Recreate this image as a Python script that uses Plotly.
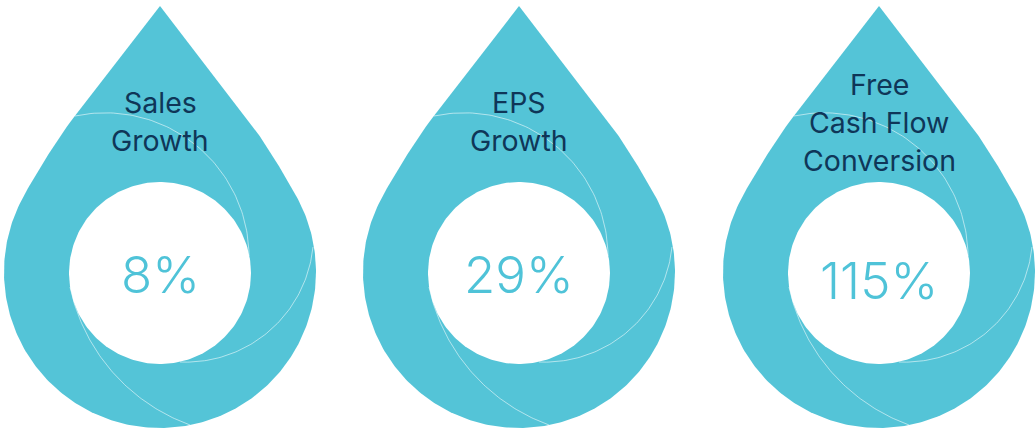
import numpy as np
import plotly.graph_objects as go

# Metric titles (one entry per line) and their values in percent
title_lines = [["Sales", "Growth"], ["EPS", "Growth"], ["Free", "Cash Flow", "Conversion"]]
values = [8, 29, 115]

# Drop geometry (pixel units, y grows downwards)
drop_cx = [160, 519, 879]
CY = 272            # centre of the round part of each drop
R_OUT = 156         # radius of the round part
TIP = 266           # distance from centre to the tip
SHOULDER = (86.7, -154)   # where the straight side starts to bend
JOIN_ANGLE = np.deg2rad(27.5)  # where the side meets the round part (above horizontal)
R_IN = 91           # radius of the white centre disc
IN_DY = 1
value_dy = [2, 2, 8]
title_top = [101, 101, 83]
LINE_GAP = 38

DROP = "#54c4d7"
NAVY = "#0f3658"
VALUE = "#4fc3d8"

# shutter-blade arcs: three points each, relative to drop centre
blades = [
    [(-85, -156), (37, -126), (89, -16)],
    [(153, -25), (93, 71), (20, 90)],
    [(-90, 15), (-43, 105), (30, 153)],
]


def cubic(p0, p1, p2, p3, n=40):
    t = np.linspace(0, 1, n)[:, None]
    p0, p1, p2, p3 = map(np.asarray, (p0, p1, p2, p3))
    return (1 - t) ** 3 * p0 + 3 * t * (1 - t) ** 2 * p1 + 3 * t ** 2 * (1 - t) * p2 + t ** 3 * p3


def drop_outline(cx):
    # right half, from the tip down to the join point, in centre-relative coords
    tip = np.array([0.0, -TIP])
    sh = np.array(SHOULDER, dtype=float)
    d = (sh - tip) / np.linalg.norm(sh - tip)
    join = np.array([R_OUT * np.cos(JOIN_ANGLE), -R_OUT * np.sin(JOIN_ANGLE)])
    tang = np.array([-np.sin(JOIN_ANGLE), -np.cos(JOIN_ANGLE)])  # heading up along the circle
    bend = cubic(sh, sh + 25 * d, join + 25 * tang, join)
    right = np.vstack([tip, bend])
    t = np.linspace(-JOIN_ANGLE, np.pi + JOIN_ANGLE, 240)
    bottom = np.column_stack([R_OUT * np.cos(t), R_OUT * np.sin(t)])
    left = right[::-1] * np.array([-1, 1])
    pts = np.vstack([right, bottom, left])
    return pts[:, 0] + cx, pts[:, 1] + CY


def circle(cx, cy, r):
    t = np.linspace(0, 2 * np.pi, 240)
    return cx + r * np.cos(t), cy + r * np.sin(t)


def arc_through(p0, p1, p2, n=80):
    (x1, y1), (x2, y2), (x3, y3) = p0, p1, p2
    d = 2 * (x1 * (y2 - y3) + x2 * (y3 - y1) + x3 * (y1 - y2))
    ux = ((x1**2 + y1**2) * (y2 - y3) + (x2**2 + y2**2) * (y3 - y1) + (x3**2 + y3**2) * (y1 - y2)) / d
    uy = ((x1**2 + y1**2) * (x3 - x2) + (x2**2 + y2**2) * (x1 - x3) + (x3**2 + y3**2) * (x2 - x1)) / d
    r = np.hypot(x1 - ux, y1 - uy)
    a0 = np.arctan2(y1 - uy, x1 - ux)
    a1 = np.arctan2(y2 - uy, x2 - ux)
    a2 = np.arctan2(y3 - uy, x3 - ux)
    ccw = (a1 - a0) % (2 * np.pi) < (a2 - a0) % (2 * np.pi)
    span = (a2 - a0) % (2 * np.pi)
    if not ccw:
        span = span - 2 * np.pi
    t = a0 + np.linspace(0, span, n)
    return ux + r * np.cos(t), uy + r * np.sin(t)


fig = go.Figure()
annotations = []

for i, cx in enumerate(drop_cx):
    xs, ys = drop_outline(cx)
    fig.add_trace(go.Scatter(x=xs, y=ys, fill="toself", fillcolor=DROP, mode="lines",
                             line=dict(width=0, color=DROP), hoverinfo="skip", showlegend=False))
    for p0, p1, p2 in blades:
        ax, ay = arc_through(p0, p1, p2)
        fig.add_trace(go.Scatter(x=ax + cx, y=ay + CY, mode="lines",
                                 line=dict(width=1, color="rgba(255,255,255,0.55)"),
                                 hoverinfo="skip", showlegend=False))
    ix, iy = circle(cx, CY + IN_DY, R_IN)
    fig.add_trace(go.Scatter(x=ix, y=iy, fill="toself", fillcolor="white", mode="lines",
                             line=dict(width=0, color="white"), hoverinfo="skip", showlegend=False))

    for k, line in enumerate(title_lines[i]):
        annotations.append(dict(x=cx, y=title_top[i] + k * LINE_GAP + 1, text=line, showarrow=False,
                                xanchor="center", yanchor="middle",
                                font=dict(family="Inter", size=28.5, color=NAVY, weight=400)))
    annotations.append(dict(x=cx, y=CY + value_dy[i], text=f"{values[i]}%", showarrow=False,
                            xanchor="center", yanchor="middle",
                            font=dict(family="Inter", size=51, color=VALUE, weight=300)))

fig.update_layout(
    width=1035, height=430,
    margin=dict(l=0, r=0, t=0, b=0),
    paper_bgcolor="white", plot_bgcolor="white",
    xaxis=dict(range=[0, 1035], visible=False, fixedrange=True),
    yaxis=dict(range=[430, 0], visible=False, fixedrange=True),
    annotations=annotations,
)

fig.write_html("out.html")
